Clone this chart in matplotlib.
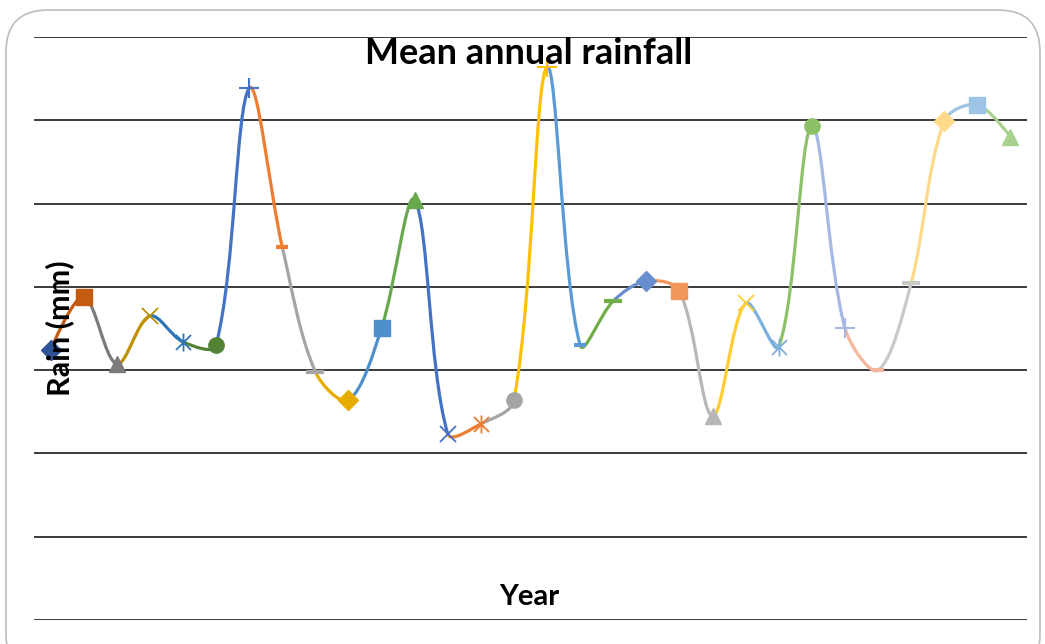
import numpy as np
import matplotlib
matplotlib.use("Agg")
import matplotlib.pyplot as plt
from matplotlib.path import Path
from matplotlib.patches import PathPatch, FancyBboxPatch

# mean annual rainfall (mm), one value per year
years = list(range(1990, 2020))
rain = [648, 776, 615, 730, 668, 660, 1277, 896, 596, 528,
        701, 1009, 447, 471, 528, 1328, 660, 766, 814, 790,
        490, 761, 656, 1186, 701, 600, 809, 1198, 1237, 1160]

# Excel "vary colours by point" palette, as seen in the picture
point_colors = ["#2F5597", "#C55A11", "#7B7B7B", "#BF9000", "#2E75B6", "#548235",
                "#4472C4", "#ED7D31", "#A5A5A5", "#E6AC00", "#4F8FCB", "#6AA84F",
                "#4472C4", "#ED7D31", "#A5A5A5", "#FFC000", "#5B9BD5", "#70AD47",
                "#698ED0", "#F1975A", "#B7B7B7", "#FFCD33", "#7CAFDD", "#8CC168",
                "#A5B8E3", "#F4B69C", "#C9C9C9", "#FFD98A", "#9DC3E6", "#A9D18E"]

# Excel automatic marker cycle
star = Path([(-1, -1), (1, 1), (-1, 1), (1, -1), (0, -1.2), (0, 1.2)],
            [Path.MOVETO, Path.LINETO, Path.MOVETO, Path.LINETO, Path.MOVETO, Path.LINETO])
bar = Path([(-1, 0), (1, 0)], [Path.MOVETO, Path.LINETO])
marker_cycle = [("D", 10, 1.0), ("s", 11, 1.0), ("^", 11, 1.0), ("x", 11, 1.3),
                (star, 13, 1.3), ("o", 11, 1.0), ("+", 14, 1.5),
                (bar, 9, 3.0), (bar, 13, 3.0)]

W, H = 1045, 644
fig = plt.figure(figsize=(W / 100, H / 100), dpi=100)

# rounded frame round the whole chart
frame = FancyBboxPatch((6 / W, -0.05), 1034 / W, 1.05 - 10 / H,
                       boxstyle="round,pad=0,rounding_size=0.04",
                       transform=fig.transFigure, facecolor="white",
                       edgecolor="#BDBDBD", linewidth=1.2, mutation_aspect=W / H,
                       zorder=-5)
fig.patches.append(frame)

ax = fig.add_axes([34 / W, (H - 620) / H, (1027 - 34) / W, (620 - 37) / H])
ax.set_facecolor("none")
n = len(rain)
x = np.arange(n)
y = np.array(rain, dtype=float)
ax.set_xlim(-0.5, n - 0.5)
ax.set_ylim(0, 1400)
ax.set_yticks(np.arange(0, 1401, 200))
ax.set_xticks([])
ax.tick_params(left=False, labelleft=False)
ax.grid(axis="y", color="#3A3A3A", linewidth=1.4)
ax.set_axisbelow(True)
for s in ax.spines.values():
    s.set_visible(False)

# smoothed segments like Excel: Bezier with chord-weighted tangents (screen space)
pts = np.column_stack([x, y])
fig.canvas.draw()
scr = ax.transData.transform(pts)


def ctrl(k, side):
    # control-point offset at point k, towards the next (side=1) or previous (side=-1) point
    if k == 0 or k == n - 1:
        return np.zeros(2)
    d_prev = np.linalg.norm(scr[k] - scr[k - 1])
    d_next = np.linalg.norm(scr[k + 1] - scr[k])
    w = d_next if side == 1 else d_prev
    return (pts[k + 1] - pts[k - 1]) * w / (d_prev + d_next) / 3 * side


for i in range(n - 1):
    p0, p3 = pts[i], pts[i + 1]
    c1 = p0 + ctrl(i, 1)
    c2 = p3 + ctrl(i + 1, -1)
    path = Path([p0, c1, c2, p3], [Path.MOVETO, Path.CURVE4, Path.CURVE4, Path.CURVE4])
    ax.add_patch(PathPatch(path, facecolor="none", edgecolor=point_colors[i + 1],
                           linewidth=2.3, capstyle="round", zorder=3))

for i in range(n):
    m, ms, mew = marker_cycle[i % len(marker_cycle)]
    ax.plot(x[i], y[i], linestyle="none", marker=m, markersize=ms,
            color=point_colors[i], markeredgecolor=point_colors[i],
            markeredgewidth=mew, zorder=4, clip_on=False)

font = ["Lato", "DejaVu Sans"]
fig.text(529 / W, 1 - 53 / H, "Mean annual rainfall", ha="center", va="center",
         fontsize=26, fontweight="bold", family=font)
fig.text(60 / W, 1 - 328 / H, "Rain (mm)", ha="center", va="center", rotation=90,
         fontsize=22, fontweight="bold", family=font)
fig.text(529 / W, 1 - 597 / H, "Year", ha="center", va="center",
         fontsize=21, fontweight="bold", family=font)

fig.savefig("out.png", dpi=100)
